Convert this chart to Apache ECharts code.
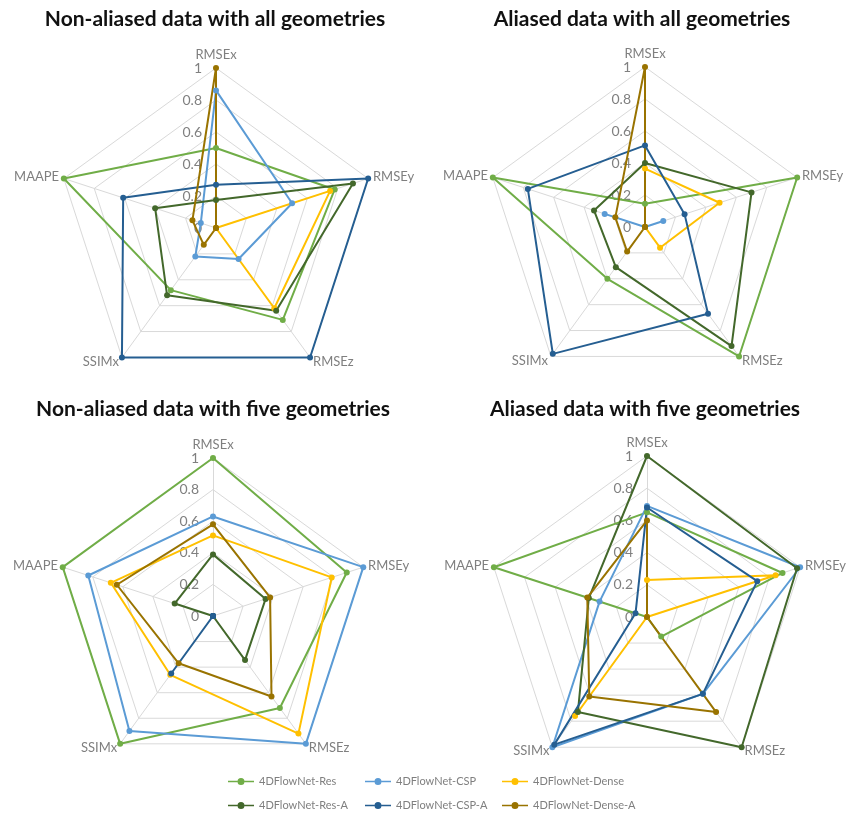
<!DOCTYPE html>
<html>
<head>
<meta charset="utf-8">
<title>4DFlowNet radar comparison</title>
<script src="https://cdn.jsdelivr.net/npm/echarts@6/dist/echarts.min.js"></script>
<style>
  html, body { margin: 0; padding: 0; background: #fff; }
  #chart { width: 856px; height: 814px; }
</style>
</head>
<body>
<div id="chart"></div>
<script>
// metrics in the paper's order (clockwise from the top)
const metrics = ['RMSEx', 'RMSEy', 'RMSEz', 'SSIMx', 'MAAPE']
const methods = ['4DFlowNet-Res', '4DFlowNet-CSP', '4DFlowNet-Dense', '4DFlowNet-Res-A', '4DFlowNet-CSP-A', '4DFlowNet-Dense-A']
const panelTitles = [
  'Non-aliased data with all geometries',
  'Aliased data with all geometries',
  'Non-aliased data with five geometries',
  'Aliased data with five geometries'
]

// one row per method, values in metric order
const nonAliasedAll = [
  [0.50, 0.78, 0.71, 0.48, 1.00],
  [0.86, 0.50, 0.24, 0.22, 0.10],
  [0.00, 0.75, 0.62, 0.00, 0.00],
  [0.175, 0.90, 0.64, 0.52, 0.40],
  [0.27, 1.00, 1.00, 1.00, 0.61],
  [1.00, 0.00, 0.00, 0.13, 0.155]
]
const aliasedAll = [
  [0.145, 1.00, 1.00, 0.40, 1.00],
  [0.00, 0.12, 0.00, 0.00, 0.265],
  [0.365, 0.49, 0.16, 0.00, 0.00],
  [0.40, 0.70, 0.92, 0.31, 0.335],
  [0.51, 0.26, 0.67, 0.98, 0.77],
  [1.00, 0.00, 0.00, 0.19, 0.195]
]
const nonAliasedFive = [
  [1.00, 0.89, 0.72, 1.00, 1.00],
  [0.63, 1.00, 1.00, 0.90, 0.83],
  [0.51, 0.79, 0.92, 0.46, 0.68],
  [0.39, 0.35, 0.345, 0.00, 0.255],
  [0.00, 0.00, 0.00, 0.45, 0.00],
  [0.58, 0.38, 0.63, 0.37, 0.64]
]
const aliasedFive = [
  [0.65, 0.885, 0.15, 0.00, 1.00],
  [0.69, 1.00, 0.59, 1.00, 0.31],
  [0.23, 0.84, 0.00, 0.76, 0.00],
  [1.00, 0.98, 1.00, 0.73, 0.38],
  [0.68, 0.72, 0.59, 0.98, 0.075],
  [0.60, 0.00, 0.73, 0.61, 0.39]
]
const panels = [nonAliasedAll, aliasedAll, nonAliasedFive, aliasedFive]

const colors = ['#70ad47', '#5b9bd5', '#ffc000', '#43682b', '#255e91', '#997300']
const centers = [[216, 228], [645, 227], [213, 616], [647, 617]]
const radii = [160, 160, 158, 161]
const titlePos = [[215, 9], [642, 9], [213, 399], [645, 399]]
const legendX = [228, 365, 502]
const legendY = [776, 800]

// echarts lays indicators out counter-clockwise, the figure goes clockwise
const order = [0, 4, 3, 2, 1]
const font = 'Lato, "Open Sans", sans-serif'
const legendIcon = 'path://M0,2.7L9.5,2.7L9.5,4.3L0,4.3Z M16.5,2.7L26,2.7L26,4.3L16.5,4.3Z M9.5,3.5A3.5,3.5,0,1,0,16.5,3.5A3.5,3.5,0,1,0,9.5,3.5Z'

const chart = echarts.init(document.getElementById('chart'))

const radar = panels.map((_, p) => ({
  center: centers[p],
  radius: radii[p],
  startAngle: 90,
  shape: 'polygon',
  splitNumber: 5,
  nameGap: 5,
  axisName: { color: '#7f7f7f', fontSize: 13, fontFamily: font },
  indicator: order.map((m, k) => {
    const ind = { name: metrics[m], min: 0, max: 1 }
    if (k === 0) {
      ind.axisLabel = { show: true, color: '#808080', fontSize: 14, fontFamily: font, margin: 14 }
    }
    return ind
  }),
  splitLine: { lineStyle: { color: '#d9d9d9', width: 1 } },
  splitArea: { show: false },
  axisLine: { lineStyle: { color: '#d9d9d9', width: 1 } },
  axisTick: { show: false },
  axisLabel: { show: false }
}))

const series = []
panels.forEach((rows, p) => {
  rows.forEach((vals, i) => {
    series.push({
      type: 'radar',
      radarIndex: p,
      name: methods[i],
      symbol: 'circle',
      symbolSize: 6,
      lineStyle: { color: colors[i], width: 2 },
      itemStyle: { color: colors[i] },
      data: [{ value: order.map(k => vals[k]) }]
    })
  })
})

const option = {
  animation: false,
  backgroundColor: '#ffffff',
  title: panelTitles.map((t, p) => ({
    text: t,
    left: titlePos[p][0],
    top: titlePos[p][1],
    textAlign: 'center',
    padding: 0,
    textStyle: { fontSize: 21, fontWeight: 'bold', color: '#111', fontFamily: font }
  })),
  legend: methods.map((m, i) => ({
    data: [m],
    left: legendX[i % 3],
    top: legendY[Math.floor(i / 3)],
    padding: 0,
    itemWidth: 26,
    itemHeight: 7,
    icon: legendIcon,
    textStyle: { color: '#7f7f7f', fontSize: 11, fontFamily: font }
  })),
  radar: radar,
  series: series
}

chart.setOption(option)
</script>
</body>
</html>
